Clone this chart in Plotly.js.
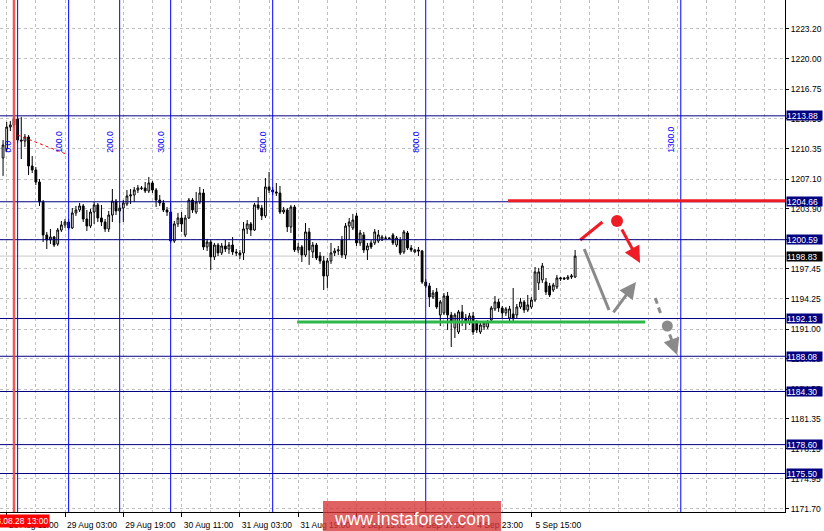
<!DOCTYPE html>
<html><head><meta charset="utf-8">
<script src="https://cdn.plot.ly/plotly-3.0.1.min.js"></script>
<style>html,body{margin:0;padding:0;background:#fff;}#chart{width:824px;height:531px;}</style>
</head><body><div id="chart"></div>
<script>
// ---- XAUUSD H1 candles (bar index -1 .. 156) ----
const firstBar = -1;
const openP = [1209.36,1210.32,1212.68,1212.90,1213.54,1211.29,1211.18,1211.61,1208.50,1208.07,
1206.78,1204.64,1201.10,1200.56,1200.88,1200.13,1201.63,1202.17,1202.49,1201.85,
1203.46,1203.78,1204.21,1202.81,1202.06,1203.56,1204.32,1202.92,1202.49,1201.74,
1203.24,1204.74,1203.67,1203.99,1204.42,1205.28,1205.39,1205.92,1206.14,1206.14,
1205.82,1206.68,1205.92,1204.85,1204.53,1203.78,1203.56,1200.45,1202.28,1202.92,
1201.10,1202.92,1204.85,1203.56,1204.64,1205.60,1199.81,1200.34,1198.74,1200.02,
1199.17,1199.92,1199.59,1200.02,1199.27,1199.17,1199.17,1201.74,1202.28,1201.63,
1204.32,1203.99,1203.14,1206.25,1205.92,1205.71,1205.60,1203.56,1203.78,1201.96,
1204.10,1199.49,1199.81,1198.95,1201.42,1199.27,1200.02,1198.84,1198.31,1196.70,
1198.31,1199.17,1199.38,1200.56,1198.95,1202.06,1201.85,1203.14,1200.24,1201.10,
1199.49,1200.24,1200.24,1200.45,1200.56,1200.77,1200.77,1201.10,1200.02,1200.56,
1199.27,1201.31,1199.70,1199.27,1199.49,1199.38,1196.05,1195.63,1194.44,1194.98,
1192.51,1192.73,1194.55,1192.51,1191.12,1190.69,1192.84,1192.19,1191.76,1192.41,
1191.65,1190.69,1191.23,1191.23,1191.97,1193.16,1193.91,1193.26,1192.73,1192.19,
1192.62,1192.51,1193.37,1193.91,1193.05,1193.37,1194.12,1195.95,1196.27,1196.05,
1195.63,1195.19,1195.52,1196.38,1196.48,1196.38,1196.59,1196.59];
const highP = [1211.29,1213.22,1213.33,1213.86,1213.75,1213.75,1211.93,1211.82,1209.57,1208.39,
1207.10,1204.85,1201.42,1201.74,1200.99,1201.85,1202.60,1202.81,1202.81,1203.99,
1204.21,1204.53,1204.42,1203.78,1203.89,1204.64,1204.53,1204.32,1202.81,1203.67,
1206.03,1204.96,1204.32,1204.85,1205.92,1206.03,1206.25,1206.46,1206.35,1206.78,
1207.32,1206.89,1206.14,1205.39,1204.85,1204.10,1204.53,1202.60,1203.46,1203.56,
1203.24,1205.07,1205.07,1205.71,1206.25,1206.03,1200.67,1200.56,1200.24,1200.24,
1200.24,1200.56,1200.34,1200.88,1199.59,1199.49,1202.49,1202.70,1202.49,1204.53,
1205.17,1204.32,1207.21,1207.86,1206.25,1206.68,1206.35,1204.10,1203.99,1204.32,
1204.32,1200.24,1200.02,1202.38,1201.85,1200.34,1200.24,1199.27,1198.84,1198.63,
1200.24,1199.70,1199.92,1200.99,1202.38,1202.92,1203.35,1203.46,1201.63,1201.42,
1200.24,1200.56,1201.74,1201.63,1201.10,1200.99,1200.88,1201.31,1200.99,1200.88,
1201.63,1201.53,1200.02,1199.59,1199.81,1199.49,1196.38,1195.95,1195.19,1195.41,
1194.12,1194.87,1194.98,1192.84,1192.73,1193.05,1193.59,1192.62,1192.73,1192.84,
1191.97,1191.76,1191.87,1191.97,1193.48,1194.55,1194.23,1193.48,1193.37,1193.48,
1195.41,1193.69,1194.34,1194.12,1194.66,1194.44,1197.66,1197.56,1198.09,1196.48,
1195.95,1195.95,1196.80,1196.59,1196.59,1196.80,1196.91,1199.49];
const lowP = [1207.43,1210.00,1212.25,1212.57,1210.96,1209.25,1210.54,1207.53,1207.75,1206.46,
1204.21,1200.34,1199.59,1200.13,1199.81,1199.92,1201.42,1201.85,1201.63,1201.74,
1203.14,1203.56,1202.49,1201.53,1201.85,1202.28,1202.49,1202.06,1201.42,1201.42,
1202.49,1203.24,1202.38,1202.49,1204.21,1204.42,1204.64,1205.60,1205.92,1205.60,
1205.60,1205.60,1204.10,1204.21,1203.56,1203.14,1200.24,1200.24,1201.96,1201.42,
1200.88,1202.81,1203.46,1203.35,1204.42,1199.49,1199.38,1197.34,1198.41,1198.84,
1198.95,1199.27,1199.06,1198.95,1198.84,1198.52,1198.41,1201.20,1200.99,1201.53,
1203.78,1202.70,1202.92,1205.60,1205.39,1205.28,1203.35,1203.35,1201.42,1201.31,
1199.27,1199.17,1198.20,1198.74,1197.88,1198.63,1198.41,1197.99,1195.19,1195.41,
1197.99,1198.84,1198.95,1198.63,1198.52,1200.56,1201.63,1199.92,1199.92,1199.17,
1198.41,1199.59,1200.02,1200.24,1200.45,1200.67,1200.67,1200.02,1199.81,1198.95,
1199.06,1199.49,1199.27,1199.17,1198.84,1195.84,1195.41,1193.37,1194.23,1193.16,
1191.33,1192.51,1190.90,1189.08,1190.04,1190.47,1191.33,1190.90,1191.44,1190.37,
1190.58,1190.47,1190.90,1191.01,1191.76,1192.94,1192.84,1192.19,1192.41,1191.65,
1191.65,1192.19,1193.16,1192.73,1192.84,1193.16,1193.91,1195.19,1195.95,1194.66,
1194.44,1194.98,1195.30,1196.16,1196.27,1196.27,1196.38,1196.48];
const closeP = [1210.75,1212.68,1212.90,1213.54,1211.29,1211.18,1211.61,1208.50,1208.07,1206.78,
1204.64,1201.10,1200.56,1200.88,1200.02,1201.63,1202.17,1202.49,1201.85,1203.46,
1203.78,1204.21,1202.81,1202.06,1203.56,1204.32,1202.92,1202.49,1201.74,1203.24,
1204.74,1203.67,1203.99,1204.53,1205.28,1205.39,1205.92,1206.14,1206.10,1205.82,
1206.68,1205.92,1204.85,1204.53,1203.78,1203.56,1200.45,1202.28,1202.92,1202.28,
1202.92,1204.85,1203.78,1204.64,1205.60,1199.81,1200.34,1198.74,1200.02,1199.17,
1199.92,1199.59,1200.02,1199.27,1199.17,1198.95,1201.74,1202.28,1201.63,1204.32,
1203.99,1203.14,1206.25,1205.92,1205.71,1205.60,1203.56,1203.78,1201.96,1204.10,
1199.49,1199.81,1198.95,1201.42,1199.49,1200.02,1198.63,1198.31,1196.70,1198.31,
1199.17,1199.38,1199.49,1198.95,1202.06,1202.49,1202.70,1200.24,1201.31,1199.49,
1199.92,1199.81,1201.42,1201.10,1200.88,1200.74,1200.72,1200.24,1200.77,1199.17,
1201.42,1199.70,1199.49,1199.49,1199.38,1196.05,1195.63,1194.44,1194.87,1193.37,
1193.91,1194.55,1192.51,1191.76,1192.51,1192.84,1192.19,1191.76,1192.41,1190.69,
1190.90,1191.44,1191.65,1191.76,1193.26,1193.91,1193.26,1192.73,1193.16,1193.16,
1192.19,1193.37,1193.91,1193.05,1193.59,1194.12,1197.13,1197.13,1197.77,1194.98,
1194.66,1195.73,1196.48,1196.48,1196.38,1196.59,1196.70,1198.83];

// ---- axis ticks ----
const xTickIdx = [0,16,32,48,64,80,96,112,128,144];
const xTickText = ["28 Aug 11:00","29 Aug 03:00","29 Aug 19:00","30 Aug 11:00","31 Aug 03:00",
  "31 Aug 19:00","3 Sep 15:00","4 Sep 07:00","4 Sep 23:00","5 Sep 15:00"];
const yTickVals = [1223.20,1220.00,1216.75,1213.55,1210.35,1207.10,1203.90,1200.65,1197.45,
  1194.25,1191.00,1187.80,1184.55,1181.35,1178.15,1174.95,1171.70];

// ---- chart objects ----
const levels = [1213.88,1204.66,1200.59,1192.13,1188.08,1184.30,1178.60,1175.50];
const bidPrice = 1198.83;
const fibIdx = [3,17,31,45,73,115,185];
const fibText = ["0.0","100.0","200.0","300.0","500.0","800.0","1300.0"];
const fibLabelPrice = 1209.68;
const fibBaseX = [3,17], fibBaseY = [1211.82,1209.68];
const markerIdx = 2, markerText = "2018.08.28 13:00";
const resistStart = 137.6, resistPrice = 1204.78;
const supportX = [79.7,175.2], supportPrice = 1191.76;
const redSegX = [157.4,163.5], redSegY = [1200.56,1202.49];
const redDot = [167.5,1202.60];
const redArrow = [168.6,1201.85,173.8,1198.09];
const graySegX = [158.5,165.3], graySegY = [1199.59,1193.05];
const grayArrow1 = [166.2,1192.62,172.7,1196.05];
const grayDashX = [178.0,179.6], grayDashY = [1194.34,1192.51];
const grayDot = [181.3,1191.33];
const grayArrow2 = [181.8,1190.58,184.0,1188.22];
const watermark = "www.instaforex.com";

const barX = openP.map((_, k) => firstBar + k);
const FONT = "Liberation Sans, Arial, sans-serif";
const GRID = "#c0c0c0";
const RED = "#ee1c25", GRAY = "#8a8a8a";

const traces = [
  {type:"candlestick", x:barX, open:openP, high:highP, low:lowP, close:closeP,
   increasing:{line:{color:"#000",width:1}, fillcolor:"#ffffff"},
   decreasing:{line:{color:"#000",width:1}, fillcolor:"#000000"},
   whiskerwidth:0, hoverinfo:"skip"},
  {type:"scatter", mode:"lines", x:fibBaseX, y:fibBaseY, line:{color:"#ff0000",width:1,dash:"dot"}, hoverinfo:"skip"},
  {type:"scatter", mode:"lines", x:supportX, y:[supportPrice,supportPrice], line:{color:"#2fb84a",width:3}, hoverinfo:"skip"},
  {type:"scatter", mode:"lines", x:redSegX, y:redSegY, line:{color:RED,width:3}, hoverinfo:"skip"},
  {type:"scatter", mode:"lines", x:graySegX, y:graySegY, line:{color:GRAY,width:3}, hoverinfo:"skip"},
  {type:"scatter", mode:"lines", x:grayDashX, y:grayDashY, line:{color:GRAY,width:3,dash:"6px,4px"}, hoverinfo:"skip"},
  {type:"scatter", mode:"markers", x:[redDot[0]], y:[redDot[1]], marker:{color:RED,size:12}, hoverinfo:"skip"},
  {type:"scatter", mode:"markers", x:[grayDot[0]], y:[grayDot[1]], marker:{color:GRAY,size:11}, hoverinfo:"skip"}
];

const shapes = [];
levels.forEach(v => shapes.push({type:"line", xref:"paper", x0:0, x1:1, yref:"y", y0:v, y1:v,
  line:{color:"#000080", width:1}, layer:"above"}));
shapes.push({type:"line", xref:"paper", x0:0, x1:1, yref:"y", y0:bidPrice, y1:bidPrice,
  line:{color:"#c8c8c8", width:1}, layer:"below"});
fibIdx.forEach(v => shapes.push({type:"line", xref:"x", x0:v, x1:v, yref:"paper", y0:0, y1:1,
  line:{color:"#0000ff", width:1}, layer:"above"}));
shapes.push({type:"line", xref:"x", x0:markerIdx, x1:markerIdx, yref:"paper", y0:0, y1:1,
  line:{color:"rgba(240,70,70,0.9)", width:2.5}, layer:"above"});
shapes.push({type:"line", xref:"x", x0:resistStart, x1:213.6, yref:"y", y0:resistPrice, y1:resistPrice,
  line:{color:RED, width:3}, layer:"above"});
// watermark box
shapes.push({type:"rect", xref:"paper", yref:"paper", x0:323/785, x1:501/785, y0:(512-501)/512, y1:(512-540)/512,
  fillcolor:"rgba(214,52,52,0.78)", line:{width:0}, layer:"above"});

const annotations = [];
levels.forEach(v => annotations.push({xref:"paper", x:1, xanchor:"left", xshift:1, yref:"y", y:v,
  text:v.toFixed(2), showarrow:false, bgcolor:"#000080", font:{color:"#fff", size:8.5, family:FONT},
  borderpad:0, width:35, height:9, align:"left"}));
annotations.push({xref:"paper", x:1, xanchor:"left", xshift:1, yref:"y", y:bidPrice,
  text:bidPrice.toFixed(2), showarrow:false, bgcolor:"#000", font:{color:"#fff", size:8.5, family:FONT},
  borderpad:0, width:35, height:9, align:"left"});
fibIdx.forEach((v,k) => annotations.push({xref:"x", x:v, xanchor:"right", xshift:-3, yref:"y", y:fibLabelPrice,
  yanchor:"bottom", textangle:-90, text:fibText[k], showarrow:false, font:{color:"#0000ff", size:8.5, family:FONT}}));
annotations.push({xref:"paper", x:50/785, xanchor:"right", yref:"paper", y:(512-521)/512, yanchor:"middle",
  text:markerText, showarrow:false, bgcolor:"#ff0000", font:{color:"#fff", size:8.5, family:FONT}, borderpad:1});
annotations.push({xref:"x", yref:"y", x:redArrow[2], y:redArrow[3], axref:"x", ayref:"y", ax:redArrow[0], ay:redArrow[1],
  showarrow:true, arrowhead:2, arrowsize:1.1, arrowwidth:3, arrowcolor:RED, text:""});
annotations.push({xref:"x", yref:"y", x:grayArrow1[2], y:grayArrow1[3], axref:"x", ayref:"y", ax:grayArrow1[0], ay:grayArrow1[1],
  showarrow:true, arrowhead:2, arrowsize:1.1, arrowwidth:3, arrowcolor:GRAY, text:""});
annotations.push({xref:"x", yref:"y", x:grayArrow2[2], y:grayArrow2[3], axref:"x", ayref:"y", ax:grayArrow2[0], ay:grayArrow2[1],
  showarrow:true, arrowhead:2, arrowsize:1.1, arrowwidth:3, arrowcolor:GRAY, text:""});
annotations.push({xref:"paper", yref:"paper", x:412/785, y:(512-519)/512, xanchor:"center", yanchor:"middle",
  text:watermark, showarrow:false, font:{color:"#ffffff", size:17.5, family:FONT}});

const layout = {
  width:824, height:531,
  margin:{l:0, r:39, t:0, b:19, pad:0},
  paper_bgcolor:"#ffffff", plot_bgcolor:"#ffffff",
  showlegend:false,
  font:{family:FONT, size:8.5, color:"#000"},
  xaxis:{range:[-1.84,213.6], rangeslider:{visible:false}, tickmode:"array", tickvals:xTickIdx, ticktext:xTickText,
    ticks:"outside", ticklen:4, tickcolor:"#000", showgrid:true, gridcolor:GRID, griddash:"3px,3px",
    minor:{tickmode:"linear", tick0:0, dtick:8, showgrid:true, gridcolor:GRID, griddash:"3px,3px", ticks:""},
    showline:true, linecolor:"#000", linewidth:1, zeroline:false, ticklabelshift:27, ticklabelstandoff:1,
    tickfont:{size:8.5, family:FONT, color:"#000"}, fixedrange:true},
  yaxis:{side:"right", range:[1171.37,1226.31], tickmode:"array", tickvals:yTickVals,
    ticktext:yTickVals.map(v => v.toFixed(2)), ticks:"outside", ticklen:3, tickcolor:"#000",
    showgrid:true, gridcolor:GRID, griddash:"3px,3px", showline:true, linecolor:"#000", linewidth:1,
    zeroline:false, tickfont:{size:8.5, family:FONT, color:"#000"}, fixedrange:true},
  shapes:shapes, annotations:annotations
};
Plotly.newPlot("chart", traces, layout, {displayModeBar:false, staticPlot:true});
</script>
</body></html>
